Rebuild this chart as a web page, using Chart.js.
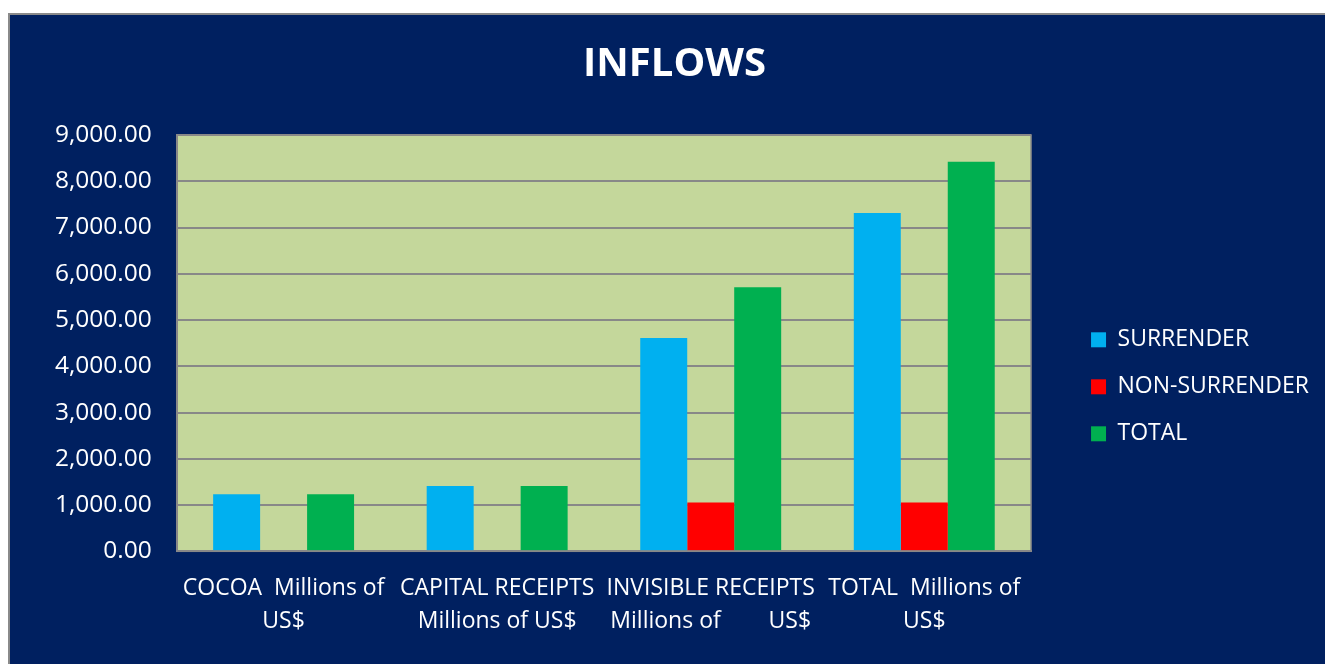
<!DOCTYPE html>
<html>
<head>
<meta charset="utf-8">
<script src="https://cdn.jsdelivr.net/npm/chart.js@4/dist/chart.umd.min.js"></script>
<style>
    html, body { margin: 0; padding: 0; background: #ffffff; overflow: hidden; }
    #frame {
        position: absolute;
        left: 8px;
        top: 13px;
        width: 1330px;
        height: 660px;
        background: #002060;
        border-left: 2px solid #8a8a8a;
        border-top: 2px solid #8a8a8a;
    }
    #chartWrap { position: absolute; left: 0; top: 0; width: 1315px; height: 649px; }
</style>
</head>
<body>
<div id="frame">
    <div id="chartWrap"><canvas id="inflowsChart"></canvas></div>
</div>
<script>
// Inflows chart (Millions of US$)

const categories = [
    ['COCOA  Millions of', 'US$'],
    ['CAPITAL RECEIPTS', 'Millions of US$'],
    ['INVISIBLE RECEIPTS', 'Millions of        US$'],
    ['TOTAL  Millions of', 'US$']
];
const surrender = [1235, 1410, 4610, 7315];
const nonSurrender = [0, 0, 1055, 1055];
const total = [1235, 1410, 5710, 8420];

const seriesNames = ['SURRENDER', 'NON-SURRENDER', 'TOTAL'];
const seriesColors = ['#00B0F0', '#FF0000', '#00B050'];

const yMin = 0;
const yMax = 9000;
const yStep = 1000;

const FONT = '"Open Sans", "Liberation Sans", sans-serif';

// paint the plot area background and frame
const plotAreaPlugin = {
    id: 'plotArea',
    beforeDraw(chart) {
        const { ctx, chartArea } = chart;
        ctx.save();
        ctx.fillStyle = '#C4D79B';
        ctx.fillRect(chartArea.left, chartArea.top, chartArea.right - chartArea.left, chartArea.bottom - chartArea.top);
        ctx.restore();
    },
    afterDraw(chart) {
        const { ctx, chartArea } = chart;
        ctx.save();
        ctx.strokeStyle = '#888888';
        ctx.lineWidth = 1.5;
        ctx.strokeRect(chartArea.left, chartArea.top, chartArea.right - chartArea.left, chartArea.bottom - chartArea.top);
        ctx.restore();
    }
};

function renderChart() {
    const ctx = document.getElementById('inflowsChart').getContext('2d');
    new Chart(ctx, {
        type: 'bar',
        data: {
            labels: categories,
            datasets: [{
                label: seriesNames[0],
                data: surrender,
                backgroundColor: seriesColors[0]
            }, {
                label: seriesNames[1],
                data: nonSurrender,
                backgroundColor: seriesColors[1]
            }, {
                label: seriesNames[2],
                data: total,
                backgroundColor: seriesColors[2]
            }]
        },
        options: {
            responsive: true,
            maintainAspectRatio: false,
            animation: false,
            datasets: {
                bar: {
                    barPercentage: 1,
                    categoryPercentage: 0.66
                }
            },
            layout: {
                padding: { top: 26, left: 20, right: 6, bottom: 5 }
            },
            plugins: {
                title: {
                    display: true,
                    text: 'INFLOWS',
                    color: '#ffffff',
                    font: { family: FONT, size: 40, weight: 'bold' },
                    padding: { top: 0, bottom: 46 }
                },
                legend: {
                    position: 'right',
                    // empty title only pushes the items down
                    title: {
                        display: true,
                        text: '',
                        font: { family: FONT, size: 18 },
                        padding: { top: 52, bottom: 0 }
                    },
                    labels: {
                        color: '#ffffff',
                        boxWidth: 15,
                        boxHeight: 15,
                        padding: 24,
                        font: { family: FONT, size: 23 }
                    }
                },
                tooltip: { enabled: false }
            },
            scales: {
                x: {
                    grid: { display: false, drawTicks: false },
                    border: { display: true, color: '#888888', width: 2 },
                    ticks: {
                        color: '#ffffff',
                        padding: 20.5,
                        maxRotation: 0,
                        autoSkip: false,
                        font: { family: FONT, size: 23, lineHeight: 1.45 }
                    }
                },
                y: {
                    min: yMin,
                    max: yMax,
                    grid: { color: '#888888', lineWidth: 2, drawTicks: false },
                    border: { display: true, color: '#888888', width: 2 },
                    ticks: {
                        stepSize: yStep,
                        color: '#ffffff',
                        padding: 25,
                        font: { family: FONT, size: 24.5 },
                        callback: value => value.toLocaleString('en-US', { minimumFractionDigits: 2, maximumFractionDigits: 2 })
                    }
                },
                // spacer between the plot area and the legend (hidden, keeps its width)
                gap: {
                    position: 'right',
                    display: false,
                    afterFit: scale => { scale.width = 36; }
                }
            }
        },
        plugins: [plotAreaPlugin]
    });
}

renderChart();
</script>
</body>
</html>
